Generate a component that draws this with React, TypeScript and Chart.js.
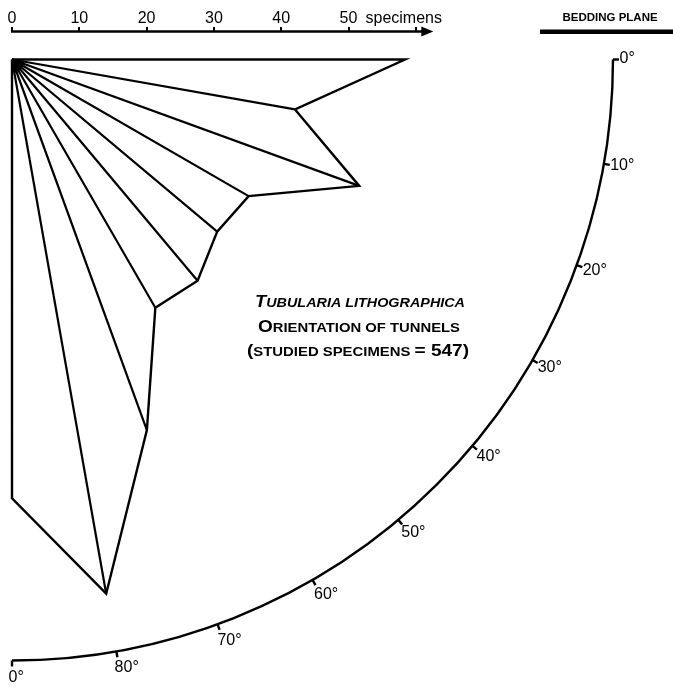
import React, { useEffect, useRef } from 'react';
import { Chart, registerables } from 'chart.js';

Chart.register(...registerables);

// ---- data ----
const angleClasses = [0, 10, 20, 30, 40, 50, 60, 70, 80, 90];
const specimenCounts = [58.4, 42.7, 54.9, 40.6, 39.8, 42.9, 42.6, 58.6, 80.6, 65.2];
const scaleTickValues = [0, 10, 20, 30, 40, 50, 60];
const scaleTickLabels = ['0', '10', '20', '30', '40', '50', ''];
const scaleUnit = 'specimens';
const arcTickAngles = [0, 10, 20, 30, 40, 50, 60, 70, 80, 90];
const arcTickLabels = ['0°', '10°', '20°', '30°', '40°', '50°', '60°', '70°', '80°', '0°'];
const beddingLabel = 'BEDDING PLANE';
const titleLine1 = [['T', 'big'], ['UBULARIA LITHOGRAPHICA', 'small']];
const titleLine2 = [['O', 'big'], ['RIENTATION OF TUNNELS', 'small']];
const titleLine3 = [['(', 'big'], ['STUDIED SPECIMENS ', 'small'], ['= 547)', 'big']];

// ---- geometry / style constants ----
const W = 673;
const H = 688;
const PX_PER_UNIT = 6.73;
const ORIGIN_X = 12;
const ORIGIN_Y = 59.5;
const AXIS_Y = 32;
const ARC_RADIUS = 89.3; // in specimen units
const AXIS_END = 62.6; // arrow tip, in specimen units
const LINE_W = 2.4;
const FONT = "'Liberation Sans', Arial, Helvetica, sans-serif";

const rad = (d: number) => (d * Math.PI) / 180;
const polar = (deg: number, r: number) => ({ x: r * Math.cos(rad(deg)), y: r * Math.sin(rad(deg)) });

function drawMixed(ctx: CanvasRenderingContext2D, segs: string[][], italic: boolean, cx: number, baseline: number, targetW: number) {
  const fontFor = (kind: string) =>
    `${italic ? 'italic ' : ''}bold ${kind === 'big' ? 16 : 12.5}px ${FONT}`;
  let w = 0;
  for (const [t, k] of segs) {
    ctx.font = fontFor(k);
    w += ctx.measureText(t).width;
  }
  const sx = targetW / w;
  ctx.save();
  ctx.translate(cx - targetW / 2, baseline);
  ctx.scale(sx, 1);
  ctx.textAlign = 'left';
  ctx.textBaseline = 'alphabetic';
  let x = 0;
  for (const [t, k] of segs) {
    ctx.font = fontFor(k);
    ctx.fillText(t, x, 0);
    x += ctx.measureText(t).width;
  }
  ctx.restore();
}

const decorPlugin = {
  id: 'decor',
  afterDraw(chart: any) {
    const ctx: CanvasRenderingContext2D = chart.ctx;
    const xs = chart.scales.x;
    const ys = chart.scales.y;
    const px = (v: number) => xs.getPixelForValue(v);
    const py = (v: number) => ys.getPixelForValue(v);
    const cx = px(0);
    const cy = py(0);
    const R = px(ARC_RADIUS) - cx;
    ctx.save();
    ctx.fillStyle = '#000';
    ctx.strokeStyle = '#000';

    // scale axis line with arrow
    const ay = chart.chartArea.top - 0.5;
    const tipX = px(AXIS_END);
    ctx.lineWidth = LINE_W;
    ctx.beginPath();
    ctx.moveTo(px(0) - 1, ay);
    ctx.lineTo(tipX - 6, ay);
    ctx.stroke();
    ctx.beginPath();
    ctx.moveTo(tipX, ay);
    ctx.lineTo(tipX - 12, ay - 5);
    ctx.lineTo(tipX - 12, ay + 5);
    ctx.closePath();
    ctx.fill();

    // unit label
    ctx.font = `16px ${FONT}`;
    ctx.textAlign = 'left';
    ctx.textBaseline = 'middle';
    ctx.fillText(scaleUnit, px(50) + 17, chart.chartArea.top - 13);

    // bedding plane
    ctx.fillRect(540, 29.5, W - 540, 4.5);
    ctx.font = `bold 11.5px ${FONT}`;
    ctx.textAlign = 'center';
    ctx.textBaseline = 'alphabetic';
    ctx.fillText(beddingLabel, 610, 21);

    // quarter arc
    ctx.lineWidth = LINE_W;
    ctx.beginPath();
    ctx.arc(cx, cy, R, 0, Math.PI / 2);
    ctx.stroke();

    // arc ticks & labels
    ctx.font = `16px ${FONT}`;
    ctx.textAlign = 'left';
    ctx.textBaseline = 'middle';
    arcTickAngles.forEach((a, i) => {
      const c = Math.cos(rad(a));
      const s = Math.sin(rad(a));
      const x1 = cx + R * c;
      const y1 = cy + R * s;
      ctx.beginPath();
      ctx.moveTo(x1, y1);
      ctx.lineTo(cx + (R + 6) * c, cy + (R + 6) * s);
      ctx.stroke();
      ctx.fillText(arcTickLabels[i], x1 + 10 * c - 3.5, y1 + 18 * s - 1);
    });

    // title
    drawMixed(ctx, titleLine1, true, 360, 307, 210);
    drawMixed(ctx, titleLine2, false, 359, 332, 202);
    drawMixed(ctx, titleLine3, false, 358, 356, 222);

    ctx.restore();
  },
};

export default function App() {
  const ref = useRef<HTMLCanvasElement>(null);
  useEffect(() => {
    if (!ref.current) return;
    const origin = { x: 0, y: 0 };
    const vertices = angleClasses.map((a, i) => polar(a, specimenCounts[i]));
    const outline = [origin, ...vertices, origin];
    const rays: { x: number; y: number }[] = [];
    vertices.forEach((v, i) => {
      if (i === 0 || i === vertices.length - 1) return;
      rays.push(origin, v, { x: NaN, y: NaN });
    });
    const chart = new Chart(ref.current, {
      type: 'scatter',
      data: {
        datasets: [
          {
            data: outline,
            showLine: true,
            borderColor: '#000',
            borderWidth: LINE_W,
            pointRadius: 0,
            borderJoinStyle: 'miter',
            fill: false,
          },
          {
            data: rays,
            showLine: true,
            spanGaps: false,
            borderColor: '#000',
            borderWidth: 2.2,
            pointRadius: 0,
            fill: false,
          },
        ],
      } as any,
      options: {
        responsive: false,
        animation: false,
        devicePixelRatio: 1,
        events: [],
        layout: { padding: 0 },
        plugins: { legend: { display: false }, tooltip: { enabled: false } },
        scales: {
          x: {
            type: 'linear',
            position: 'top',
            min: -ORIGIN_X / PX_PER_UNIT,
            max: (W - ORIGIN_X) / PX_PER_UNIT,
            afterBuildTicks: (s: any) => {
              s.ticks = scaleTickValues.map((v) => ({ value: v }));
            },
            afterFit: (s: any) => {
              s.height = AXIS_Y;
            },
            ticks: {
              autoSkip: false,
              maxRotation: 0,
              padding: 0,
              color: '#000',
              font: { family: FONT, size: 16, lineHeight: 1 },
              callback: (v: any) => {
                const i = scaleTickValues.indexOf(Number(v));
                return i >= 0 ? scaleTickLabels[i] : '';
              },
            },
            grid: { drawOnChartArea: false, tickLength: 5, color: '#000', lineWidth: 2 },
            border: { display: false },
          },
          y: {
            type: 'linear',
            display: false,
            reverse: true,
            min: -(ORIGIN_Y - AXIS_Y) / PX_PER_UNIT,
            max: (H - ORIGIN_Y) / PX_PER_UNIT,
          },
        },
      } as any,
      plugins: [decorPlugin],
    });
    return () => chart.destroy();
  }, []);
  return (
    <div style={{ position: 'fixed', left: 0, top: 0, width: W, height: H, background: '#fff' }}>
      <canvas ref={ref} width={W} height={H} style={{ display: 'block' }} />
    </div>
  );
}
